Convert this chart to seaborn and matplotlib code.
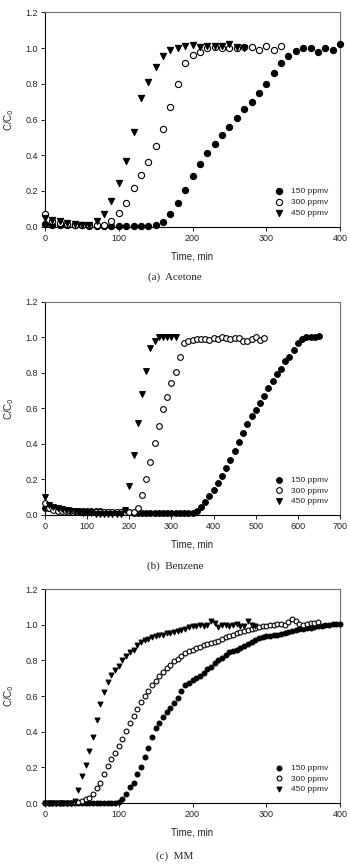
import numpy as np
import pandas as pd
import matplotlib
matplotlib.use('Agg')
import matplotlib.pyplot as plt
import seaborn as sns

# ---- data (C/C0 vs time, min) ----
conc_labels = ['150 ppmv', '300 ppmv', '450 ppmv']

# (a) Acetone, sampled every 10 min
acetone_t150 = np.arange(0, 401, 10)
acetone_150 = [0.015, 0.01, 0.01, 0.01, 0.01, 0.01, 0.005, 0.005, 0.005, 0.005,
               0.005, 0.005, 0.005, 0.005, 0.005, 0.008, 0.028, 0.069, 0.131, 0.205,
               0.284, 0.351, 0.41, 0.463, 0.515, 0.558, 0.61, 0.657, 0.696, 0.748,
               0.799, 0.862, 0.918, 0.957, 0.985, 0.998, 0.998, 0.98, 0.998, 0.99, 1.025]
acetone_t300 = np.arange(0, 321, 10)
acetone_300 = [0.07, 0.03, 0.02, 0.015, 0.01, 0.01, 0.01, 0.008, 0.01, 0.03,
               0.075, 0.135, 0.215, 0.29, 0.36, 0.45, 0.545, 0.67, 0.80, 0.915,
               0.96, 0.98, 1.0, 1.005, 1.0, 0.998, 1.0, 1.005, 1.005, 0.99, 1.01, 0.99, 1.01]
acetone_t450 = np.arange(0, 271, 10)
acetone_450 = [0.05, 0.04, 0.03, 0.02, 0.015, 0.01, 0.01, 0.03, 0.07, 0.145,
               0.245, 0.37, 0.53, 0.72, 0.81, 0.895, 0.955, 0.99, 1.0, 1.01,
               1.015, 1.005, 1.01, 1.01, 1.01, 1.025, 1.005, 1.0]

# (b) Benzene, sampled every 10 min
benzene_t150 = np.arange(0, 651, 10)
benzene_150 = [0.04, 0.04, 0.035, 0.03, 0.03, 0.03, 0.03, 0.025, 0.025, 0.02,
               0.02, 0.02, 0.02, 0.02, 0.015, 0.015, 0.015, 0.015, 0.015, 0.015,
               0.015, 0.01, 0.01, 0.01, 0.01, 0.01, 0.01, 0.01, 0.01, 0.01,
               0.01, 0.01, 0.01, 0.01, 0.01, 0.01,
               0.02, 0.045, 0.075, 0.105, 0.14, 0.18, 0.22, 0.265, 0.31, 0.36,
               0.41, 0.46, 0.51, 0.555, 0.59, 0.63, 0.67, 0.715, 0.755, 0.795,
               0.82, 0.865, 0.89, 0.93, 0.965, 0.99, 1.0, 1.0, 1.0, 1.005]
benzene_t300 = np.arange(0, 521, 10)
benzene_300 = [0.065, 0.04, 0.03, 0.02, 0.02, 0.02, 0.02, 0.02, 0.02, 0.015,
               0.015, 0.015, 0.015, 0.015, 0.015, 0.015, 0.015, 0.015, 0.015, 0.015,
               0.015, 0.015,
               0.04, 0.11, 0.2, 0.3, 0.405, 0.5, 0.595, 0.665, 0.74, 0.805, 0.89, 0.965,
               0.98, 0.985, 0.99, 0.99, 0.99, 0.985, 0.995, 0.99, 1.0, 0.995,
               0.99, 0.995, 0.995, 0.98, 0.98, 0.99, 1.0, 0.985, 0.995]
benzene_t450 = np.arange(0, 311, 10)
benzene_450 = [0.1, 0.055, 0.045, 0.04, 0.035, 0.03, 0.025, 0.02, 0.015, 0.01,
               0.01, 0.01, 0.008, 0.008, 0.008, 0.008, 0.005, 0.005, 0.005, 0.03,
               0.165, 0.335, 0.52, 0.68, 0.81, 0.94, 0.98, 1.0, 1.0, 1.0, 1.0, 1.0]

# (c) MM, sampled every 5 min
mm_t150 = np.arange(0, 401, 5)
mm_150 = [0.0] * 20 + [0.005,
          0.02, 0.05, 0.09, 0.11, 0.16, 0.2, 0.26, 0.31, 0.37, 0.42,
          0.45, 0.48, 0.51, 0.535, 0.56, 0.59, 0.63,
          0.66, 0.675, 0.69, 0.70, 0.715, 0.73, 0.75, 0.765, 0.785, 0.80,
          0.815, 0.83, 0.845, 0.855, 0.86, 0.87, 0.88, 0.89, 0.905, 0.915,
          0.925, 0.93, 0.935, 0.935, 0.94, 0.945, 0.95, 0.955, 0.96, 0.965,
          0.97, 0.975, 0.975, 0.98, 0.98, 0.985, 0.99, 0.995, 1.0, 1.0,
          1.005, 1.005, 1.005]
mm_t300 = np.arange(0, 371, 5)
mm_300 = [0.0] * 8 + [0.003, 0.005, 0.01, 0.02, 0.03, 0.05, 0.085, 0.115, 0.16, 0.205,
          0.245, 0.28, 0.32, 0.36, 0.405, 0.45, 0.49, 0.53, 0.565, 0.6,
          0.63, 0.66, 0.685, 0.71, 0.735, 0.755, 0.775, 0.795, 0.81, 0.825,
          0.84, 0.85, 0.86, 0.87, 0.875, 0.885, 0.89, 0.9, 0.905, 0.91,
          0.92, 0.93, 0.935, 0.945, 0.955, 0.96, 0.965, 0.97, 0.975, 0.98,
          0.985, 0.99, 0.995, 1.0, 1.0, 1.005, 1.005, 1.0, 1.015, 1.03,
          1.02, 1.005, 1.0, 1.005, 1.01, 1.01, 1.015]
mm_t450 = np.arange(0, 286, 5)
mm_450 = [0.0] * 8 + [0.01, 0.075, 0.15, 0.215, 0.29, 0.37, 0.465, 0.555, 0.625, 0.68,
          0.72, 0.745, 0.77, 0.80, 0.825, 0.845, 0.86, 0.885, 0.905, 0.915,
          0.92, 0.93, 0.935, 0.945, 0.945, 0.955, 0.955, 0.96, 0.965, 0.97,
          0.975, 0.985, 0.99, 0.995, 1.0, 0.995, 1.0, 1.02, 1.01, 0.985,
          1.0, 1.0, 0.995, 1.0, 1.005, 0.99, 0.99, 1.02, 1.0, 0.99]

panels = [
    ('(a)  Acetone', [(acetone_t150, acetone_150), (acetone_t300, acetone_300), (acetone_t450, acetone_450)],
     np.arange(0, 401, 100)),
    ('(b)  Benzene', [(benzene_t150, benzene_150), (benzene_t300, benzene_300), (benzene_t450, benzene_450)],
     np.arange(0, 701, 100)),
    ('(c)  MM', [(mm_t150, mm_150), (mm_t300, mm_300), (mm_t450, mm_450)],
     np.arange(0, 401, 100)),
]

sns.set_style('ticks')
plt.rcParams['font.family'] = 'Liberation Sans'

fig = plt.figure(figsize=(3.5, 8.67), dpi=100)
# axes boxes in figure fraction (left, bottom, width, height)
boxes = [(0.1286, 0.7385, 0.843, 0.2473),
         (0.1286, 0.4060, 0.843, 0.2460),
         (0.1286, 0.0738, 0.843, 0.2468)]
caption_y = [0.6805, 0.3470, 0.0127]
marker_size = [20, 17, 12]

styles = [dict(marker='o', facecolor='black', edgecolor='black'),
          dict(marker='o', facecolor='white', edgecolor='black'),
          dict(marker='v', facecolor='black', edgecolor='black')]

for i, (caption, series, xticks) in enumerate(panels):
    ax = fig.add_axes(boxes[i])
    for (t, y), lab, st in zip(series, conc_labels, styles):
        df = pd.DataFrame({'time': t, 'c': y})
        sns.scatterplot(data=df, x='time', y='c', ax=ax, label=lab,
                        s=marker_size[i], linewidth=0.8, clip_on=False, zorder=3, **st)
    ax.set_xlim(xticks[0], xticks[-1])
    ax.set_ylim(0, 1.2)
    ax.set_xticks(xticks)
    ax.set_yticks(np.arange(0, 1.21, 0.2))
    ax.set_yticklabels([f'{v:.1f}' for v in np.arange(0, 1.21, 0.2)])
    ax.tick_params(labelsize=6.5, length=3, width=0.7, direction='out', pad=2,
                   colors='#222222')
    for side in ['left', 'bottom']:
        ax.spines[side].set_color('black')
        ax.spines[side].set_linewidth(0.8)
    for side in ['top', 'right']:
        ax.spines[side].set_visible(True)
        ax.spines[side].set_color('#707070')
        ax.spines[side].set_linewidth(0.8)
    ax.set_xlabel('Time, min', fontsize=7)
    ax.set_ylabel(r'C/C$_0$', fontsize=7)
    ax.xaxis.set_label_coords(0.5, -0.115)
    ax.yaxis.set_label_coords(-0.10, 0.5)
    ax.legend(loc='lower right', bbox_to_anchor=(0.97, 0.03), frameon=False,
              fontsize=6, handletextpad=0.9, labelspacing=0.35, borderaxespad=0,
              handlelength=1.0, markerscale=1.0)
    fig.text(0.5, caption_y[i], caption, ha='center', va='center',
             family='Liberation Serif', fontsize=8)

fig.savefig('out.png', dpi=100)
